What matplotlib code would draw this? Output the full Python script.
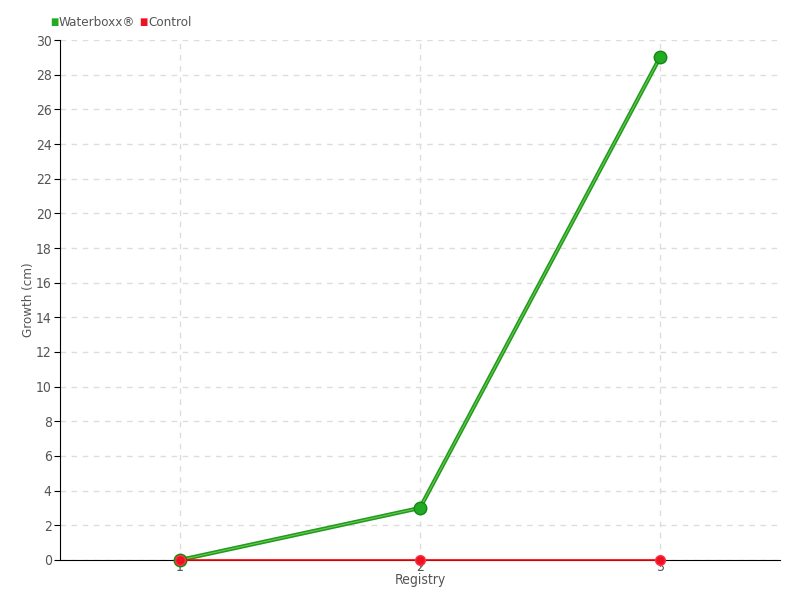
import matplotlib
matplotlib.use("Agg")
import matplotlib.pyplot as plt

registry = [1, 2, 3]
waterboxx = [0, 3, 29]
control = [0, 0, 0]
yticks = list(range(0, 31, 2))

plt.rcParams['font.family'] = ['DejaVu Sans']
plt.rcParams['font.stretch'] = 'condensed'
txt = '#555555'

fig = plt.figure(figsize=(8, 6), dpi=100)
ax = fig.add_axes([0.075, 0.0667, 0.9, 0.8666])
ax.set_xlim(0.5, 3.5)
ax.set_ylim(0, 30)
ax.set_yticks(yticks)
ax.set_xticks(registry)
ax.grid(True, color='#dddddd', linestyle=(0, (4, 4)), linewidth=1)
ax.set_axisbelow(True)
for s in ['top', 'right']:
    ax.spines[s].set_visible(False)
ax.spines['left'].set_color('black')
ax.spines['bottom'].set_color('black')
ax.tick_params(axis='both', colors='black', labelcolor=txt, labelsize=10, length=4, pad=2)
ax.tick_params(axis='x', pad=-4)

ax.plot(registry, waterboxx, color='#229922', linewidth=3, zorder=5, clip_on=False)
ax.plot(registry, waterboxx, color='#66cc44', linewidth=0.8, zorder=6, clip_on=False)
ax.plot(registry, waterboxx, linestyle='none', marker='o', markersize=9,
        markerfacecolor='#22aa22', markeredgecolor='#118811', zorder=7, clip_on=False)
ax.plot(registry, control, color='#ff0000', linewidth=1.2, zorder=8, clip_on=False)
ax.plot(registry, control, linestyle='none', marker='o', markersize=7,
        markerfacecolor='#ee1122', markeredgecolor='#ff3344', zorder=9, clip_on=False)

ax.set_xlabel('Registry', color=txt, fontsize=10, labelpad=-1)
ax.set_ylabel('Growth (cm)', color=txt, fontsize=9.5)
ax.yaxis.set_label_coords(-0.0345, 0.5)

fig.text(0.0625, 0.9633, '\u25a0', color='#22aa22', fontsize=7, va='center', ha='left')
fig.text(0.0735, 0.9633, 'Waterboxx\u00ae', color=txt, fontsize=9.6, va='center', ha='left')
fig.text(0.1735, 0.9633, '\u25a0', color='#ee1122', fontsize=7, va='center', ha='left')
fig.text(0.186, 0.9633, 'Control', color=txt, fontsize=9.6, va='center', ha='left')

fig.savefig('out.png', dpi=100)
